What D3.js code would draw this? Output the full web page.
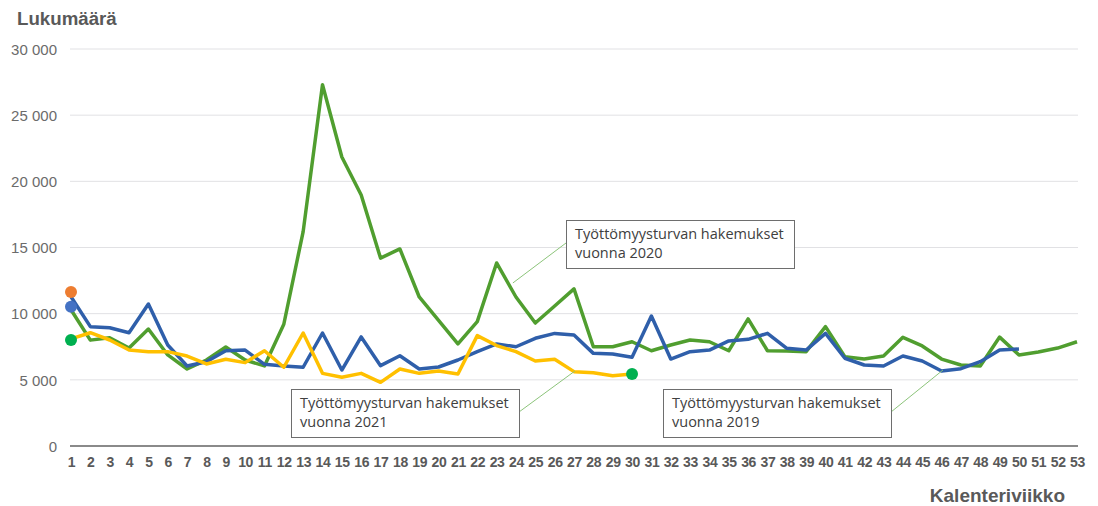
<!DOCTYPE html>
<html><head><meta charset="utf-8">
<script src="https://cdn.jsdelivr.net/npm/d3@7"></script>
<style>
body{margin:0;background:#fff;}
svg{display:block;}
</style></head>
<body><svg id="c" width="1098" height="506"></svg>
<script>
const weeks = d3.range(1, 54);
const yTicks = [0, 5000, 10000, 15000, 20000, 25000, 30000];
const values2019 = [11280,9020,8940,8560,10730,7630,6050,6370,7200,7250,6170,6050,5950,8540,5740,8240,6070,6820,5820,5970,6500,7130,7710,7500,8140,8510,8390,7000,6950,6700,9820,6570,7130,7250,7940,8060,8510,7380,7250,8510,6630,6120,6050,6800,6420,5670,5840,6370,7250,7330];
const values2020 = [10300,8000,8180,7400,8840,6880,5820,6500,7480,6500,6050,9200,16200,27300,21840,18970,14200,14890,11260,9500,7710,9400,13830,11260,9290,10580,11870,7500,7500,7880,7200,7630,8010,7880,7200,9600,7200,7180,7130,9020,6750,6570,6800,8210,7560,6570,6120,6050,8230,6880,7100,7400,7880];
const values2021 = [8090,8560,8010,7250,7130,7130,6800,6200,6550,6300,7200,5950,8540,5490,5190,5490,4810,5820,5490,5670,5440,8340,7590,7130,6420,6550,5620,5540,5310,5440];
const dots = [
  {week:1, value:11640, color:"#ED7D31"},
  {week:1, value:10530, color:"#4472C4"},
  {week:1, value:8010, color:"#00B050"},
  {week:30, value:5440, color:"#00B050"}
];
const notes = [
  {line1:"Työttömyysturvan hakemukset", line2:"vuonna 2020", week:23.84, value:12320, bx:566, by:220, side:"left"},
  {line1:"Työttömyysturvan hakemukset", line2:"vuonna 2021", week:27.05, value:5670, bx:291, by:389, side:"right"},
  {line1:"Työttömyysturvan hakemukset", line2:"vuonna 2019", week:46.07, value:5740, bx:663, by:389, side:"right"}
];

const svg = d3.select("#c");
const x = d3.scalePoint().domain(weeks).range([71, 1077]);
const y = d3.scaleLinear().domain([0, 30000]).range([446, 49]);
const fmt = v => d3.format(",")(v).replace(/,/g, " ");
const xf = w => x(Math.floor(w)) + (w - Math.floor(w)) * x.step();

// gridlines
svg.append("g").selectAll("line").data(yTicks.filter(d => d > 0)).join("line")
  .attr("x1", 70).attr("x2", 1078)
  .attr("y1", d => y(d)).attr("y2", d => y(d))
  .attr("stroke", "#e1e1e4").attr("stroke-width", 1);

// y axis labels
const yAxis = d3.axisLeft(y).tickValues(yTicks).tickFormat(fmt).tickSize(0).tickPadding(0);
const gy = svg.append("g").attr("transform", "translate(57,0)").call(yAxis);
gy.select(".domain").remove();
gy.selectAll("text").attr("font-family", "Liberation Sans, Arial, sans-serif")
  .attr("font-size", 15).attr("fill", "#6b6b6b").attr("dy", "0.35em");

// x axis
const xAxis = d3.axisBottom(x).tickSize(0).tickPadding(11);
const gx = svg.append("g").attr("transform", "translate(0,446)").call(xAxis);
gx.select(".domain").remove();
gx.selectAll("text").attr("font-family", "Liberation Sans, Arial, sans-serif")
  .attr("font-size", 14).attr("font-weight", "bold").attr("fill", "#595959")
  .attr("letter-spacing", "-0.3");
svg.append("line").attr("x1", 70).attr("x2", 1078).attr("y1", 446).attr("y2", 446)
  .attr("stroke", "#8a8a8a").attr("stroke-width", 2);

// titles
svg.append("text").attr("x", 17).attr("y", 25).text("Lukumäärä")
  .attr("font-family", "Liberation Sans, Arial, sans-serif").attr("font-size", 18.7)
  .attr("font-weight", "bold").attr("fill", "#595959");
svg.append("text").attr("x", 1065).attr("y", 502).attr("text-anchor", "end").text("Kalenteriviikko")
  .attr("font-family", "Liberation Sans, Arial, sans-serif").attr("font-size", 19)
  .attr("font-weight", "bold").attr("fill", "#595959");

// lines
const line = d3.line().x(d => x(d.week)).y(d => y(d.value));
const series = [
  {vals: values2020, color: "#509E2F"},
  {vals: values2019, color: "#2F5FAA"},
  {vals: values2021, color: "#FFC000"}
];
series.forEach(s => {
  svg.append("path").datum(s.vals.map((v, i) => ({week: weeks[i], value: v})))
    .attr("d", line).attr("fill", "none").attr("stroke", s.color)
    .attr("stroke-width", 3.5).attr("stroke-linejoin", "round");
});

// dots
svg.append("g").selectAll("circle").data(dots).join("circle")
  .attr("cx", d => x(d.week)).attr("cy", d => y(d.value)).attr("r", 6)
  .attr("fill", d => d.color);

// annotations
const bw = 228, bh = 48;
notes.forEach(n => {
  const ax = n.side === "left" ? n.bx : n.bx + bw;
  svg.append("line").attr("x1", ax).attr("y1", n.by + 23)
    .attr("x2", xf(n.week)).attr("y2", y(n.value))
    .attr("stroke", "#8cc47a").attr("stroke-width", 1);
  svg.append("rect").attr("x", n.bx + 0.5).attr("y", n.by + 0.5).attr("width", bw).attr("height", bh)
    .attr("fill", "#fff").attr("stroke", "#6e6e6e").attr("stroke-width", 1);
  const t = svg.append("text").attr("font-family", "Open Sans, Noto Sans, sans-serif")
    .attr("font-size", 14.5).attr("fill", "#404040");
  t.append("tspan").attr("x", n.bx + 9).attr("y", n.by + 19).text(n.line1);
  t.append("tspan").attr("x", n.bx + 9).attr("y", n.by + 38).text(n.line2);
});
</script></body></html>
